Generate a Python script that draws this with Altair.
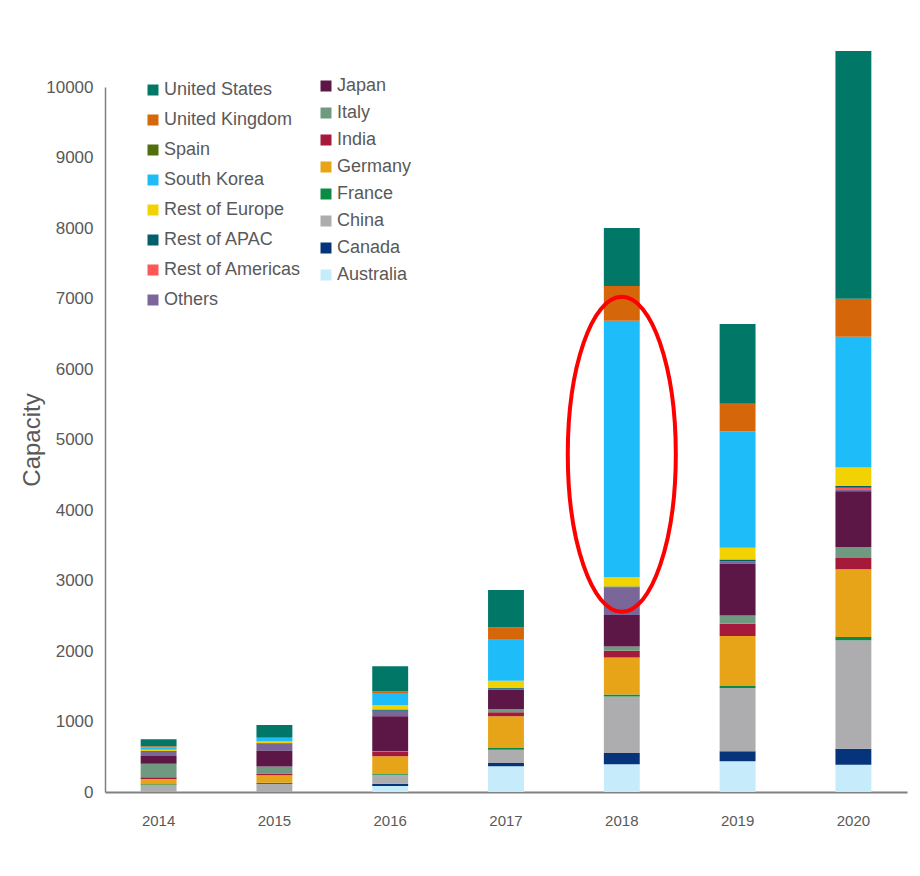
import altair as alt
import pandas as pd

years = ["2014", "2015", "2016", "2017", "2018", "2019", "2020"]

# stacking order, bottom to top
australia = [0, 0, 85, 364, 393, 435, 388]
canada = [0, 0, 33, 47, 160, 142, 227]
china = [100, 113, 128, 189, 803, 898, 1536]
france = [10, 19, 10, 24, 27, 28, 47]
germany = [75, 104, 251, 449, 525, 709, 960]
india = [25, 28, 61, 57, 95, 175, 161]
italy = [190, 99, 15, 47, 62, 118, 156]
japan = [110, 222, 492, 274, 447, 733, 790]
others = [60, 95, 76, 14, 394, 33, 20]
rest_americas = [0, 0, 0, 0, 0, 0, 30]
rest_apac = [10, 10, 19, 10, 10, 28, 28]
rest_europe = [20, 28, 61, 104, 130, 165, 260]
south_korea = [35, 47, 175, 591, 3640, 1650, 1853]
spain = [0, 0, 0, 0, 0, 0, 0]
united_kingdom = [15, 15, 20, 165, 493, 392, 539]
united_states = [100, 170, 359, 529, 820, 1134, 3517]

series = [
    ("Australia", australia, "#c6ebfb"),
    ("Canada", canada, "#06347a"),
    ("China", china, "#adadb0"),
    ("France", france, "#0b8a43"),
    ("Germany", germany, "#e8a418"),
    ("India", india, "#a5193a"),
    ("Italy", italy, "#6f9a80"),
    ("Japan", japan, "#5c1747"),
    ("Others", others, "#7a6699"),
    ("Rest of Americas", rest_americas, "#ff5757"),
    ("Rest of APAC", rest_apac, "#015f6b"),
    ("Rest of Europe", rest_europe, "#f2d202"),
    ("South Korea", south_korea, "#1ebdfa"),
    ("Spain", spain, "#506e0c"),
    ("United Kingdom", united_kingdom, "#d6660a"),
    ("United States", united_states, "#017768"),
]

legend_col1 = ["United States", "United Kingdom", "Spain", "South Korea",
               "Rest of Europe", "Rest of APAC", "Rest of Americas", "Others"]
legend_col2 = ["Japan", "Italy", "India", "Germany", "France", "China",
               "Canada", "Australia"]

highlight_year = "2018"
highlight_center = 4790

colors = {name: col for name, _, col in series}
rows = []
for i, (name, vals, _) in enumerate(series):
    for y, v in zip(years, vals):
        rows.append({"year": y, "country": name, "value": v, "ord": i,
                     "grp": 1 if name in legend_col1 else 2})
df = pd.DataFrame(rows)

FONT = "Liberation Sans"
GREY = "#595959"

x_enc = alt.X("year:N", title=None,
              scale=alt.Scale(paddingInner=0.69, paddingOuter=0.308),
              axis=alt.Axis(labelAngle=0, ticks=False, labelPadding=21,
                            labelFontSize=15, labelColor=GREY,
                            labelFont=FONT,
                            domainColor="#808080", domainWidth=2))
y_enc = alt.Y("y0:Q", title="Capacity",
              scale=alt.Scale(domain=[0, 10000], nice=False),
              axis=alt.Axis(values=list(range(0, 10001, 1000)), format="d",
                            ticks=False, grid=False, labelPadding=12,
                            labelFontSize=17, labelColor=GREY, labelFont=FONT,
                            titleFontSize=24, titleFontWeight="normal",
                            titleColor=GREY, titleFont=FONT, titlePadding=1,
                            domainColor="#808080", domainWidth=1.5))

base = alt.Chart(df).transform_stack(
    stack="value", groupby=["year"], as_=["y0", "y1"],
    sort=[alt.SortField("ord", order="ascending")]
)


def legend(x, y, pad):
    return alt.Legend(title=None, orient="none", legendX=x, legendY=y,
                      symbolType="square", symbolSize=121, symbolStrokeWidth=0,
                      labelFontSize=18, labelFont=FONT, labelColor=GREY,
                      labelOffset=2, rowPadding=pad, padding=0,
                      labelLimit=300)


bars1 = base.transform_filter(alt.datum.grp == 1).mark_bar().encode(
    x=x_enc, y=y_enc, y2="y1:Q",
    color=alt.Color("country:N",
                    scale=alt.Scale(domain=legend_col1,
                                    range=[colors[c] for c in legend_col1]),
                    legend=legend(39, -6, 12)),
)
bars2 = base.transform_filter(alt.datum.grp == 2).mark_bar().encode(
    x=x_enc, y=y_enc, y2="y1:Q",
    color=alt.Color("country:N",
                    scale=alt.Scale(domain=legend_col2,
                                    range=[colors[c] for c in legend_col2]),
                    legend=legend(212, -10, 9)),
)

a = 0.343
k = 0.5523
ellipse_path = (
    f"M {a},0 C {a},{k} {a*k:.4f},1 0,1 C {-a*k:.4f},1 {-a},{k} {-a},0 "
    f"C {-a},{-k} {-a*k:.4f},-1 0,-1 C {a*k:.4f},-1 {a},{-k} {a},0 Z"
)
ann = alt.Chart(pd.DataFrame({"year": [highlight_year],
                              "center": [highlight_center]})).mark_point(
    shape=ellipse_path, size=315 * 315, filled=False, stroke="#ff0000",
    strokeWidth=4, opacity=1
).encode(x=alt.X("year:N"), y=alt.Y("center:Q"))

chart = alt.layer(bars1, bars2, ann).resolve_scale(color="independent").properties(
    width=802, height=705,
    autosize=alt.AutoSizeParams(type="none"),
    padding={"left": 105, "top": 87, "right": 13, "bottom": 84},
    background="white",
).configure_view(stroke=None)

chart.save("out.html", embed_options={"renderer": "svg", "actions": False})
